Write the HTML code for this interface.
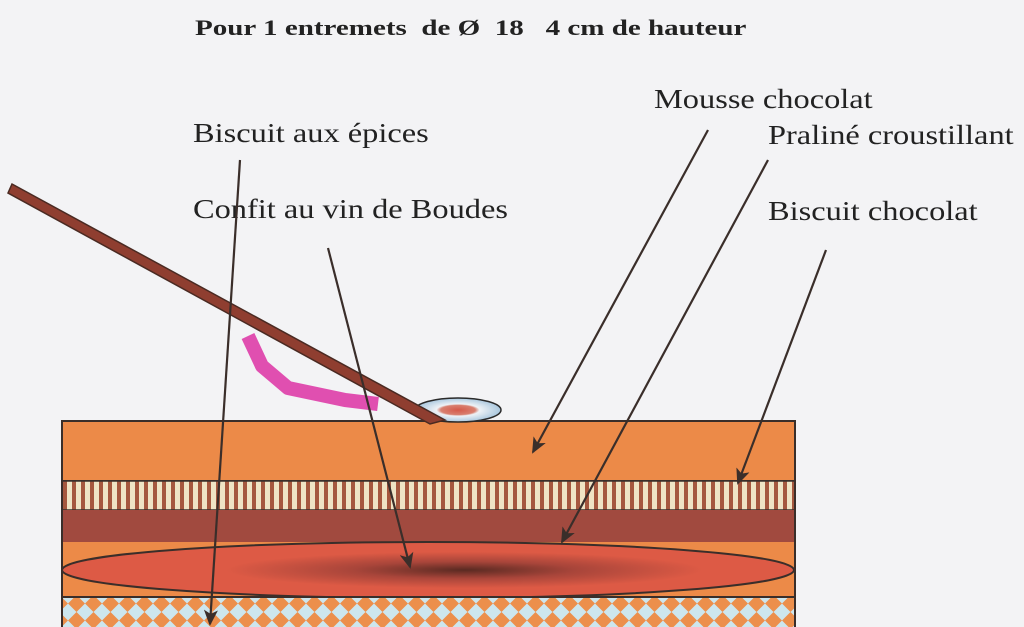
<!DOCTYPE html>
<html><head><meta charset="utf-8"><style>
body{margin:0;width:1024px;height:627px;overflow:hidden;background:#f3f3f5;font-family:"Liberation Serif",serif;position:relative}
.t{position:absolute;color:#222;font-size:27px;white-space:nowrap;transform-origin:0 0;transform:scaleX(1.2)}
</style></head><body>
<div class="t" style="left:195px;top:15px;font-size:22px;font-weight:bold;transform:scaleX(1.32)">Pour 1 entremets&nbsp; de Ø&nbsp; 18&nbsp;&nbsp; 4 cm de hauteur</div>
<div class="t" style="left:654px;top:84px">Mousse chocolat</div>
<div class="t" style="left:193px;top:118px">Biscuit aux épices</div>
<div class="t" style="left:768px;top:120px">Praliné croustillant</div>
<div class="t" style="left:193px;top:194px">Confit au vin de Boudes</div>
<div class="t" style="left:768px;top:196px">Biscuit chocolat</div>
<svg width="1024" height="627" style="position:absolute;left:0;top:0">
<defs>
<pattern id="st" width="9" height="30" patternUnits="userSpaceOnUse"><rect width="9" height="30" fill="#efe3c4"/><rect x="0" width="4" height="30" fill="#a5573e"/></pattern>
<pattern id="dm" width="17" height="17" patternUnits="userSpaceOnUse"><rect width="17" height="17" fill="#cde6ee"/><polygon points="8.5,0 17,8.5 8.5,17 0,8.5" fill="#ec8f4c"/></pattern>
<radialGradient id="eg" cx="0.55" cy="0.5" r="0.5"><stop offset="0" stop-color="#5a2a22"/><stop offset="0.3" stop-color="#a8453a"/><stop offset="0.65" stop-color="#dd5a45"/></radialGradient>
<radialGradient id="pl" cx="0.5" cy="0.5" r="0.5"><stop offset="0" stop-color="#d65a4a"/><stop offset="0.4" stop-color="#d88070"/><stop offset="0.5" stop-color="#eef2f6"/><stop offset="1" stop-color="#a9c7de"/></radialGradient>
<marker id="ar" markerWidth="16" markerHeight="14" refX="14" refY="7" orient="auto" markerUnits="userSpaceOnUse"><polygon points="0,0 16,7 0,14 4,7" fill="#3a2e2a"/></marker>
</defs>
<path d="M248,336 L262,366 L288,388 L345,400 L378,404" fill="none" stroke="#e04fb0" stroke-width="14" stroke-linejoin="round"/>
<rect x="62" y="421" width="733" height="60" fill="#ec8a48" stroke="#3a2e2a" stroke-width="2"/>
<rect x="62" y="481" width="733" height="29" fill="url(#st)" stroke="#3a2e2a" stroke-width="1.5"/>
<rect x="62" y="510" width="733" height="32" fill="#a14a3f"/>
<rect x="62" y="542" width="733" height="55" fill="#ec8a48"/>
<ellipse cx="428" cy="570" rx="366" ry="28" fill="url(#eg)" stroke="#3a2e2a" stroke-width="2"/>
<rect x="62" y="597" width="733" height="35" fill="url(#dm)" stroke="#3a2e2a" stroke-width="2"/>
<line x1="62" y1="421" x2="62" y2="627" stroke="#3a2e2a" stroke-width="2"/>
<line x1="795" y1="421" x2="795" y2="627" stroke="#3a2e2a" stroke-width="2"/>
<ellipse cx="458" cy="410" rx="43" ry="12" fill="url(#pl)" stroke="#2a2a2a" stroke-width="1.5"/>
<polygon points="12,184 445,420 430,424 8,193" fill="#8f3e30" stroke="#4a2a22" stroke-width="1.5"/>
<g stroke="#3a2e2a" stroke-width="2.2" marker-end="url(#ar)">
<line x1="240" y1="160" x2="210" y2="624"/>
<line x1="328" y1="248" x2="410" y2="567"/>
<line x1="708" y1="130" x2="533" y2="452"/>
<line x1="768" y1="160" x2="562" y2="542"/>
<line x1="826" y1="250" x2="738" y2="483"/>
</g>
</svg>
</body></html>
